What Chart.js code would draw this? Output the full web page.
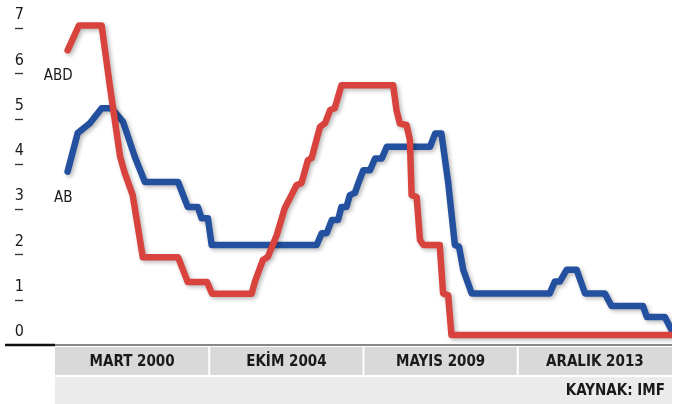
<!DOCTYPE html>
<html>
<head>
<meta charset="utf-8">
<script src="https://cdn.jsdelivr.net/npm/chart.js@4.4.1/dist/chart.umd.min.js"></script>
<style>
html,body{margin:0;padding:0;background:#fff;}
canvas{display:block;}
</style>
</head>
<body>
<canvas id="c" width="677" height="404"></canvas>
<script>
// ---- data ----
const categories = ['MART 2000', 'EKİM 2004', 'MAYIS 2009', 'ARALIK 2013'];
const yTicks = [0, 1, 2, 3, 4, 5, 6, 7];
const seriesNames = ['ABD', 'AB'];
const sourceText = 'KAYNAK: IMF';

const abdX = [2000.00, 2000.27, 2000.81, 2001.01, 2001.25, 2001.36, 2001.55, 2001.79, 2002.63, 2002.86, 2003.32, 2003.44, 2004.38, 2004.46, 2004.65, 2004.77, 2004.98, 2005.17, 2005.45, 2005.57, 2005.72, 2005.81, 2006.01, 2006.13, 2006.25, 2006.36, 2006.52, 2007.75, 2007.83, 2007.91, 2008.07, 2008.15, 2008.19, 2008.31, 2008.39, 2008.47, 2008.86, 2008.94, 2009.06, 2009.14, 2014.38];
const abdY = [6.51, 7.06, 7.06, 5.70, 4.16, 3.80, 3.31, 1.94, 1.94, 1.39, 1.39, 1.13, 1.13, 1.40, 1.88, 1.95, 2.43, 3.02, 3.53, 3.58, 4.08, 4.13, 4.82, 4.90, 5.19, 5.23, 5.74, 5.74, 5.19, 4.89, 4.86, 4.53, 3.31, 3.27, 2.32, 2.21, 2.21, 1.14, 1.10, 0.22, 0.22];

const abX = [2000.00, 2000.24, 2000.53, 2000.81, 2001.05, 2001.32, 2001.60, 2001.84, 2002.63, 2002.86, 2003.10, 2003.19, 2003.34, 2003.43, 2005.93, 2006.05, 2006.17, 2006.29, 2006.44, 2006.52, 2006.64, 2006.72, 2006.84, 2006.92, 2007.04, 2007.20, 2007.32, 2007.48, 2007.60, 2008.63, 2008.75, 2008.90, 2009.06, 2009.22, 2009.32, 2009.42, 2009.62, 2011.48, 2011.60, 2011.72, 2011.88, 2012.12, 2012.32, 2012.79, 2012.95, 2013.70, 2013.79, 2014.22, 2014.38];
const abY = [3.83, 4.68, 4.90, 5.23, 5.23, 4.93, 4.16, 3.60, 3.60, 3.05, 3.05, 2.80, 2.80, 2.21, 2.21, 2.47, 2.47, 2.76, 2.76, 3.05, 3.05, 3.31, 3.36, 3.57, 3.86, 3.86, 4.12, 4.12, 4.38, 4.38, 4.67, 4.67, 3.60, 2.21, 2.17, 1.66, 1.14, 1.14, 1.40, 1.40, 1.66, 1.66, 1.14, 1.14, 0.86, 0.86, 0.62, 0.62, 0.33];

// ---- styling ----
const FONT = "'Liberation Sans Narrow','DejaVu Sans Condensed','Arial Narrow','Roboto',sans-serif";
const RED = '#d8433d';
const BLUE = '#23509f';
const TEXT = '#1a1a1a';

const zip = (xs, ys) => xs.map((x, i) => ({x, y: ys[i]}));

const decor = {
  id: 'decor',
  beforeDraw(chart) {
    const {ctx, scales} = chart;
    const xc = scales.xc, y = scales.y;
    const y0 = y.getPixelForValue(0);
    const n = categories.length;
    const w = (xc.right - xc.left) / n;
    ctx.save();
    ctx.fillStyle = '#d9d9d9';
    categories.forEach((c, i) => {
      const cx = xc.getPixelForValue(i);
      const l = cx - w / 2 + (i ? 1 : 0);
      const r = cx + w / 2 - (i < n - 1 ? 1 : 0);
      ctx.fillRect(l, y0 + 2, r - l, 28);
    });
    ctx.fillStyle = '#ebebeb';
    ctx.fillRect(xc.left, y0 + 32, xc.right - xc.left, chart.height - (y0 + 32));
    ctx.restore();
  },
  beforeDatasetsDraw(chart) {
    const ctx = chart.ctx;
    ctx.save();
    ctx.shadowColor = 'rgba(0,0,0,0.28)';
    ctx.shadowBlur = 4;
    ctx.shadowOffsetX = 2;
    ctx.shadowOffsetY = 2;
  },
  afterDatasetsDraw(chart) {
    chart.ctx.restore();
  },
  afterDraw(chart) {
    const {ctx, scales, chartArea} = chart;
    const y = scales.y, x = scales.x, xc = scales.xc;
    const y0 = y.getPixelForValue(0);
    ctx.save();
    // tick dashes
    ctx.strokeStyle = '#333';
    ctx.lineWidth = 1.3;
    yTicks.forEach(v => {
      if (v === 0) return;
      const py = Math.round(y.getPixelForValue(v)) + 0.5;
      ctx.beginPath();
      ctx.moveTo(15, py);
      ctx.lineTo(23, py);
      ctx.stroke();
    });
    // baseline
    ctx.strokeStyle = '#111';
    ctx.lineWidth = 2.5;
    ctx.beginPath();
    ctx.moveTo(5, y0);
    ctx.lineTo(chartArea.left, y0);
    ctx.stroke();
    ctx.lineWidth = 1.2;
    ctx.beginPath();
    ctx.moveTo(chartArea.left - 1, y0);
    ctx.lineTo(xc.right, y0);
    ctx.stroke();
    // series labels
    ctx.fillStyle = TEXT;
    ctx.font = '15px ' + FONT;
    ctx.textAlign = 'right';
    ctx.textBaseline = 'middle';
    chart.data.datasets.forEach(ds => {
      const p = ds.data[0];
      ctx.fillText(ds.label, x.getPixelForValue(p.x) + 5, y.getPixelForValue(p.y) + 26);
    });
    // source
    ctx.font = 'bold 15px ' + FONT;
    ctx.textAlign = 'right';
    ctx.fillText(sourceText, xc.right - 7, y0 + 46);
    ctx.restore();
  }
};

new Chart(document.getElementById('c'), {
  type: 'line',
  data: {
    datasets: [
      {label: seriesNames[0], data: zip(abdX, abdY), borderColor: RED, xAxisID: 'x', yAxisID: 'y'},
      {label: seriesNames[1], data: zip(abX, abY), borderColor: BLUE, xAxisID: 'x', yAxisID: 'y'}
    ]
  },
  options: {
    responsive: false,
    animation: false,
    devicePixelRatio: 1,
    layout: {padding: {top: 10, right: 5, bottom: 29, left: 0}},
    elements: {
      line: {borderWidth: 6.5, tension: 0, borderJoinStyle: 'round', borderCapStyle: 'round', fill: false},
      point: {radius: 0, hoverRadius: 0}
    },
    plugins: {legend: {display: false}, tooltip: {enabled: false}},
    scales: {
      x: {type: 'linear', display: false, min: 1999.70, max: 2014.39},
      xc: {
        type: 'category', labels: categories, position: 'bottom', offset: true,
        grid: {display: false, drawTicks: false}, border: {display: false},
        ticks: {color: TEXT, font: {family: FONT, size: 15, weight: 'bold'}, padding: 8, maxRotation: 0},
        afterFit: s => { s.height = 30; s.paddingLeft = 0; s.paddingRight = 0; }
      },
      y: {
        type: 'linear', min: 0, max: 7.4, position: 'left',
        grid: {display: false, drawTicks: false}, border: {display: false},
        afterBuildTicks: s => { s.ticks = yTicks.map(v => ({value: v})); },
        ticks: {color: TEXT, font: {family: FONT, size: 16}, padding: 31, crossAlign: 'center', labelOffset: -13,
                callback: v => String(v)},
        afterFit: s => { s.width = 55; s.paddingTop = 0; s.paddingBottom = 0; }
      }
    }
  },
  plugins: [decor]
});
</script>
</body>
</html>
